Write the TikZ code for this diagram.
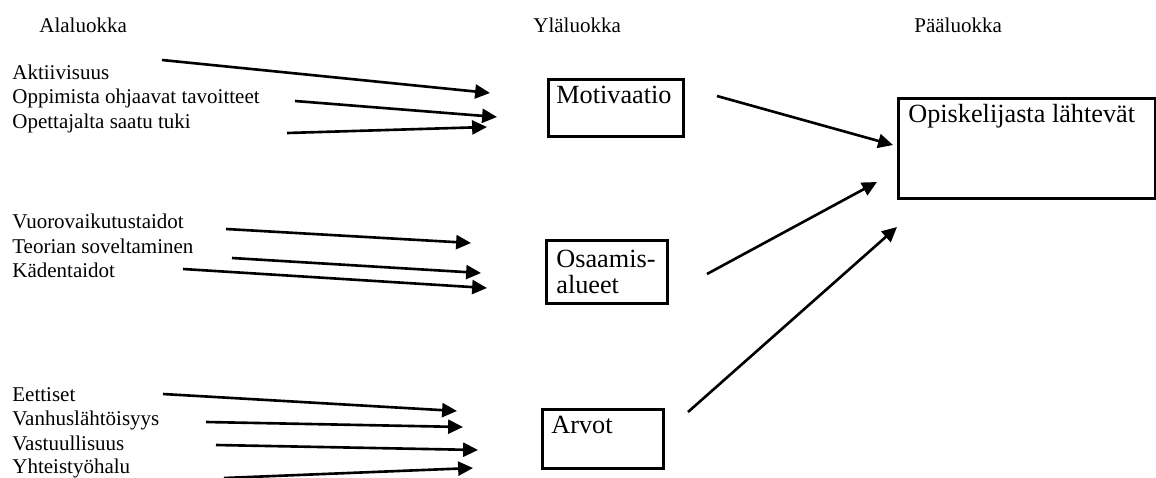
\documentclass[tikz,border=0pt]{standalone}
\usepackage{fontspec}
\setmainfont{Liberation Serif}
\usetikzlibrary{arrows.meta}
\begin{document}
\begin{tikzpicture}[x=0.5714pt,y=-0.5714pt,
  item/.style={anchor=base west,inner sep=0pt,font=\fontsize{12pt}{13.8pt}\selectfont},
  head/.style={anchor=base west,inner sep=0pt,font=\fontsize{12pt}{13.8pt}\selectfont},
  boxtext/.style={anchor=base west,inner sep=0pt,font=\fontsize{15pt}{15pt}\selectfont},
  catbox/.style={draw,line width=1.5pt,anchor=north west,inner sep=0pt},
  arr/.style={line width=1.5pt,-{Triangle[length=8.5pt,width=8pt]}}]
\useasboundingbox (0,0) rectangle (1156,477);

% headers
\node[head] (h1) at (39,32) {Alaluokka};
\node[head] (h2) at (533,32) {Yläluokka};
\node[head] (h3) at (914,32) {Pääluokka};

% items
\node[item] (i1) at (12,79) {Aktiivisuus};
\node[item] (i2) at (12,103) {Oppimista ohjaavat tavoitteet};
\node[item] (i3) at (12,128) {Opettajalta saatu tuki};
\node[item] (i4) at (12,228) {Vuorovaikutustaidot};
\node[item] (i5) at (12,253) {Teorian soveltaminen};
\node[item] (i6) at (12,277) {Kädentaidot};
\node[item] (i7) at (12,401) {Eettiset};
\node[item] (i8) at (12,425) {Vanhuslähtöisyys};
\node[item] (i9) at (12,450) {Vastuullisuus};
\node[item] (i10) at (12,473) {Yhteistyöhalu};

% boxes
\node[catbox,minimum width=77.1pt,minimum height=32.6pt] (mot) at (547,78) {};
\node[boxtext] (motT) at (556,103) {Motivaatio};
\node[catbox,minimum width=69.1pt,minimum height=36pt] (osa) at (545,239) {};
\node[boxtext] (osaT1) at (556,267) {Osaamis-};
\node[boxtext] (osaT2) at (556,293) {alueet};
\node[catbox,minimum width=69.1pt,minimum height=33.7pt] (arv) at (541,408) {};
\node[boxtext] (arvT) at (551,433) {Arvot};
\node[catbox,minimum width=146.8pt,minimum height=57.1pt] (ops) at (897,97) {};
\node[boxtext] (opsT) at (908,122) {Opiskelijasta lähtevät};

% arrow end points
\coordinate (a1s) at (162,60);  \coordinate (a1e) at (490,93);
\coordinate (a2s) at (295,101); \coordinate (a2e) at (497,117);
\coordinate (a3s) at (287,133); \coordinate (a3e) at (487,127);
\coordinate (b1s) at (226,229); \coordinate (b1e) at (471,243);
\coordinate (b2s) at (232,258); \coordinate (b2e) at (481,273);
\coordinate (b3s) at (183,269); \coordinate (b3e) at (487,288);
\coordinate (c1s) at (163,394); \coordinate (c1e) at (457,411);
\coordinate (c2s) at (206,422); \coordinate (c2e) at (463,427);
\coordinate (c3s) at (216,445); \coordinate (c3e) at (478,450);
\coordinate (c4s) at (224,478); \coordinate (c4e) at (473,468);
\coordinate (m1s) at (717,96);  \coordinate (m1e) at (893,145);
\coordinate (m2s) at (707,274); \coordinate (m2e) at (877,182);
\coordinate (m3s) at (688,412); \coordinate (m3e) at (897,227);

\foreach \p in {a1,a2,a3,b1,b2,b3,c1,c2,c3,c4,m1,m2,m3}
  \draw[arr] (\p s) -- (\p e);
\end{tikzpicture}
\end{document}
